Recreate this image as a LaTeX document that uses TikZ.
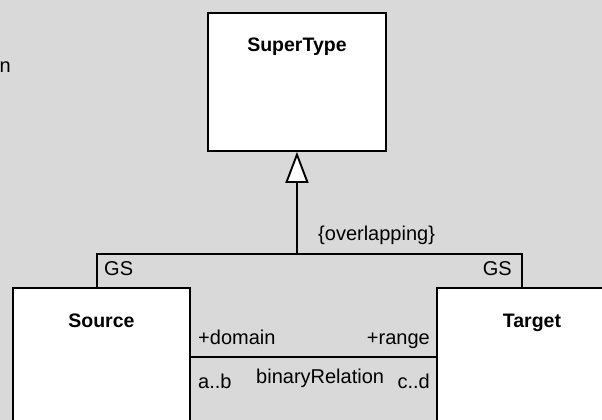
\documentclass[tikz,border=0pt]{standalone}
\usepackage{fontspec}
\setmainfont{Liberation Sans}
\usetikzlibrary{arrows.meta,positioning}
\definecolor{umlgray}{RGB}{217,217,217}

\begin{document}
\begin{tikzpicture}[line cap=round,line join=miter,x=1pt,y=-1pt,
  classbox/.style={draw,fill=white,line width=1.9pt,inner sep=0pt,anchor=north west},
  classname/.style={font=\fontsize{19.5}{22}\selectfont\bfseries,inner sep=0pt,anchor=base},
  lbl/.style={font=\fontsize{20}{22}\selectfont,inner sep=0pt},
  link/.style={line width=1.9pt},
  isa/.style={line width=1.9pt,-{Triangle[length=31pt,width=23pt,fill=white]}}]
\fill[umlgray] (0,0) rectangle (602,420);
\useasboundingbox (0,0) rectangle (602,420);
\clip (0,0) rectangle (602,420);

\node[classbox,minimum width=178pt,minimum height=138pt] (super) at (207,12) {};
\node[classbox,minimum width=177pt,minimum height=200pt] (source) at (12,287) {};
\node[classbox,minimum width=190pt,minimum height=200pt] (target) at (436,287) {};

\node[classname] (supername) at ([yshift=-40pt]super.north) {SuperType};
\node[classname] (sourcename) at ([yshift=-40pt]source.north) {Source};
\node[classname] (targetname) at ([yshift=-40pt]target.north) {Target};

\path (super.south) ++(0,102) coordinate (genbar);
\draw[link] ([xshift=85pt]source.north west) |- (genbar) -| ([xshift=86pt]target.north west);
\draw[isa] (genbar) -- (super.south);

\coordinate (assoc) at (312,357);
\draw[link] (assoc -| source.east) -- (assoc -| target.west);

\draw(318,240) node [lbl,anchor=base west] (constraint) {\{overlapping\}};
\draw(104,275) node [lbl,anchor=base west] (gsleft) {GS};
\draw(512,275) node [lbl,anchor=base east] (gsright) {GS};
\draw(198,344) node [lbl,anchor=base west] (domain) {+domain};
\draw(430,344) node [lbl,anchor=base east] (range) {+range};
\draw(198,388) node [lbl,anchor=base west] (multsrc) {a..b};
\draw(256,383) node [lbl,anchor=base west] (relname) {binaryRelation};
\draw(430,388) node [lbl,anchor=base east] (multtgt) {c..d};
\draw(11,73) node [lbl,anchor=base east] (cutoff) {n};

\end{tikzpicture}
\end{document}
